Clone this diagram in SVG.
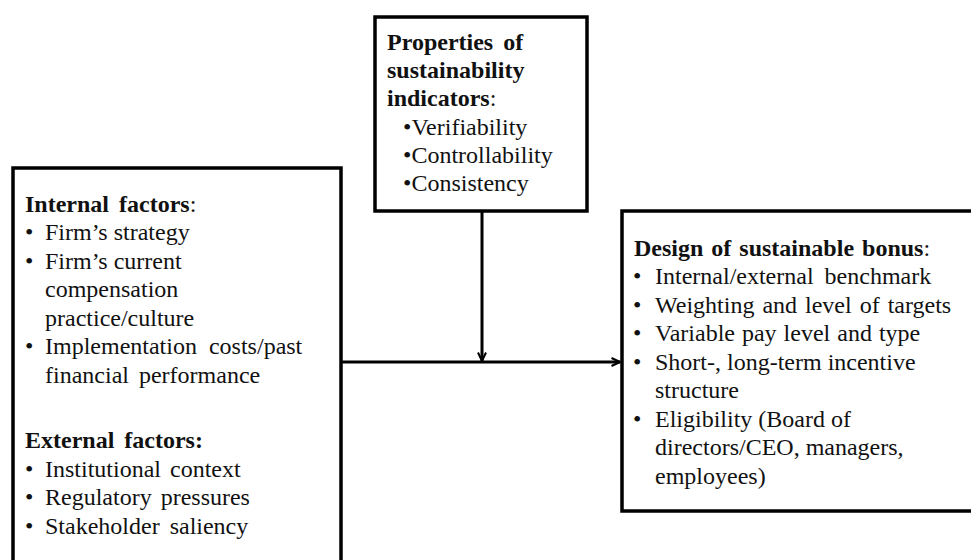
<svg xmlns="http://www.w3.org/2000/svg" width="971" height="560" viewBox="0 0 971 560">
<defs>
<style>
.box{fill:#fff;stroke:#000;stroke-width:3.5}
.t{font-family:"Liberation Serif","Times New Roman",serif;font-size:24px;fill:#111}
.b{font-weight:bold}
.n{font-weight:normal}
.ln{stroke:#000;stroke-width:3;fill:none}
</style>
<marker id="arr" viewBox="0 0 10 10" refX="9.5" refY="5" markerWidth="10" markerHeight="10" markerUnits="userSpaceOnUse" orient="auto">
<path d="M1,1 L9.5,5 L1,9" fill="none" stroke="#000" stroke-width="2"/>
</marker>
</defs>
<rect width="971" height="560" fill="#fff"/>
<g id="connectors">
<line class="ln" x1="341" y1="362" x2="620" y2="362" marker-end="url(#arr)"/>
<line class="ln" x1="482" y1="211" x2="482" y2="361" marker-end="url(#arr)"/>
</g>
<g id="factors">
<rect class="box" x="13" y="168" width="328" height="400"/>
<text class="t b" x="25" y="212" word-spacing="4">Internal factors<tspan class="n">:</tspan></text>
<text class="t" x="25" y="240">•</text><text class="t" x="45" y="240">Firm’s strategy</text>
<text class="t" x="25" y="269">•</text><text class="t" x="45" y="269">Firm’s current</text>
<text class="t" x="45" y="297">compensation</text>
<text class="t" x="45" y="326">practice/culture</text>
<text class="t" x="25" y="354">•</text><text class="t" x="45" y="354" word-spacing="6">Implementation costs/past</text>
<text class="t" x="45" y="383" word-spacing="4">financial performance</text>
<text class="t b" x="25" y="448" word-spacing="4">External factors:</text>
<text class="t" x="25" y="477">•</text><text class="t" x="45" y="477" word-spacing="3">Institutional context</text>
<text class="t" x="25" y="505">•</text><text class="t" x="45" y="505" word-spacing="3">Regulatory pressures</text>
<text class="t" x="25" y="534">•</text><text class="t" x="45" y="534" word-spacing="4">Stakeholder saliency</text>
</g>
<g id="properties">
<rect class="box" x="375" y="17" width="212" height="194"/>
<text class="t b" x="387" y="50" word-spacing="4">Properties of</text>
<text class="t b" x="387" y="78">sustainability</text>
<text class="t b" x="387" y="106">indicators<tspan class="n">:</tspan></text>
<text class="t" x="403" y="135">•Verifiability</text>
<text class="t" x="403" y="163">•Controllability</text>
<text class="t" x="403" y="191">•Consistency</text>
</g>
<g id="design">
<rect class="box" x="622" y="211" width="360" height="300"/>
<text class="t b" x="634" y="256" word-spacing="2">Design of sustainable bonus<tspan class="n">:</tspan></text>
<text class="t" x="633" y="284">•</text><text class="t" x="655" y="284" word-spacing="5">Internal/external benchmark</text>
<text class="t" x="633" y="313">•</text><text class="t" x="655" y="313" word-spacing="2">Weighting and level of targets</text>
<text class="t" x="633" y="341">•</text><text class="t" x="655" y="341" word-spacing="1">Variable pay level and type</text>
<text class="t" x="633" y="370">•</text><text class="t" x="655" y="370">Short-, long-term incentive</text>
<text class="t" x="655" y="398">structure</text>
<text class="t" x="633" y="427">•</text><text class="t" x="655" y="427">Eligibility (Board of</text>
<text class="t" x="655" y="455">directors/CEO, managers,</text>
<text class="t" x="655" y="484">employees)</text>
</g>
</svg>
